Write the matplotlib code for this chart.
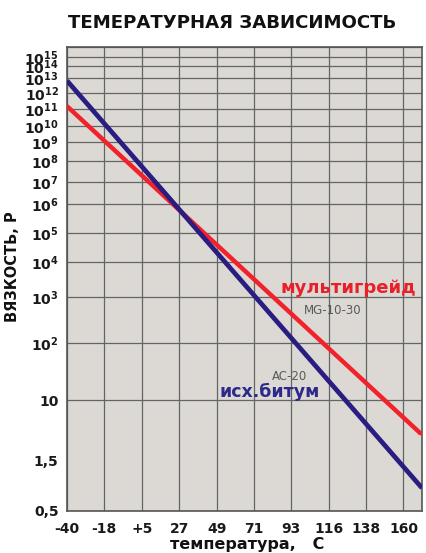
import numpy as np
import matplotlib
matplotlib.use("Agg")
import matplotlib.pyplot as plt
from matplotlib.ticker import FixedLocator, FixedFormatter

plt.rcParams['font.family'] = ['DejaVu Sans']
plt.rcParams['mathtext.fontset'] = 'dejavusans'

# ---- data ----
title = "ТЕМЕРАТУРНАЯ ЗАВИСИМОСТЬ"
x_tick_values = [-40, -17.8, 4.4, 26.7, 48.9, 71.1, 93.3, 115.6, 137.8, 160.0]
x_tick_labels = ['-40', '-18', '+5', '27', '49', '71', '93', '116', '138', '160']
y_major_values = [0.5, 10, 1e2, 1e3, 1e4, 1e5, 1e6, 1e7, 1e8, 1e9, 1e10, 1e11, 1e12, 1e13, 1e14, 1e15, 1e16]
y_major_labels = ['0,5', '10'] + [r'$\mathbf{10^{%d}}$' % k for k in range(2, 16)] + ['']
y_minor_values = [1.5]
y_minor_labels = ['1,5']

temp_bitumen = [-40, 171]
visc_bitumen = [6.6e12, 0.82]      # AC-20, исх.битум
temp_multigrade = [-40, 170]
visc_multigrade = [1.5e11, 3.5]    # MG-10-30, мультигрейд

# ---- chart's non-uniform viscosity scale (log10 value -> relative height) ----
scale_log = [np.log10(0.5), np.log10(1.5), 1, 2, 3, 4, 5, 6, 7, 8, 9, 10, 11, 12, 13, 14, 15, 16]
scale_pos = [0, 51, 111, 168, 214, 249, 278, 307, 329, 350, 369, 385, 402, 418, 433, 445, 454, 464]

def fwd(v):
    v = np.asarray(v, dtype=float)
    lv = np.log10(np.clip(v, 1e-6, None))
    out = np.interp(lv, scale_log, scale_pos)
    lo = lv < scale_log[0]
    hi = lv > scale_log[-1]
    out = np.where(lo, scale_pos[0] + (lv - scale_log[0]) * 100, out)
    out = np.where(hi, scale_pos[-1] + (lv - scale_log[-1]) * 10, out)
    return out

def inv(h):
    h = np.asarray(h, dtype=float)
    out = np.interp(h, scale_pos, scale_log)
    out = np.where(h < scale_pos[0], scale_log[0] + (h - scale_pos[0]) / 100, out)
    out = np.where(h > scale_pos[-1], scale_log[-1] + (h - scale_pos[-1]) / 10, out)
    return 10 ** out

fig = plt.figure(figsize=(4.27, 5.53), dpi=100)
ax = fig.add_axes([67/427, 42/553, 355/427, 464/553])
ax.set_facecolor('#dcd9d5')
ax.set_yscale('function', functions=(fwd, inv))
ax.set_xlim(-40, 171)
ax.set_ylim(0.5, 1e16)

ax.xaxis.set_major_locator(FixedLocator(x_tick_values))
ax.xaxis.set_major_formatter(FixedFormatter(x_tick_labels))
ax.yaxis.set_major_locator(FixedLocator(y_major_values))
ax.yaxis.set_major_formatter(FixedFormatter(y_major_labels))
ax.yaxis.set_minor_locator(FixedLocator(y_minor_values))
ax.yaxis.set_minor_formatter(FixedFormatter(y_minor_labels))

ax.grid(True, which='major', color='#646464', linewidth=0.9)
ax.set_axisbelow(True)
ax.tick_params(axis='both', which='both', length=0)
ax.tick_params(axis='x', pad=8, labelsize=10)
ax.tick_params(axis='y', which='both', pad=6, labelsize=10)
for lab in ax.get_xticklabels() + ax.get_yticklabels() + ax.get_yticklabels(minor=True):
    lab.set_fontweight('bold')
    lab.set_color('#1a1a1a')
for s in ax.spines.values():
    s.set_color('#555555')
    s.set_linewidth(1.2)

ax.plot(temp_multigrade, visc_multigrade, color='#f2222a', linewidth=3.2,
        solid_capstyle='round', zorder=3)
ax.plot(temp_bitumen, visc_bitumen, color='#2a1d82', linewidth=3.4,
        solid_capstyle='butt', zorder=4)

ax.text(0.792, 0.481, 'мультигрейд', transform=ax.transAxes, color='#e8202a',
        fontsize=13, fontweight='bold', ha='center', va='center')
ax.text(0.749, 0.433, 'MG-10-30', transform=ax.transAxes, color='#5a5a5a',
        fontsize=8.5, ha='center', va='center')
ax.text(0.628, 0.289, 'AC-20', transform=ax.transAxes, color='#5a5a5a',
        fontsize=8.5, ha='center', va='center')
ax.text(0.572, 0.256, 'исх.битум', transform=ax.transAxes, color='#2b2a8a',
        fontsize=12.5, fontweight='bold', ha='center', va='center')

fig.text(0.543, 0.958, title, ha='center', va='center', fontsize=13.1, fontweight='bold',
         color='#111111')
fig.text(0.03, 0.517, 'ВЯЗКОСТЬ, Р', rotation=90, ha='center', va='center',
         fontsize=10.5, fontweight='bold', color='#111111')
fig.text(0.578, 0.0145, 'температура,   С', ha='center', va='center',
         fontsize=11.5, fontweight='bold', color='#111111')

fig.savefig('out.png', dpi=100, facecolor='white')
